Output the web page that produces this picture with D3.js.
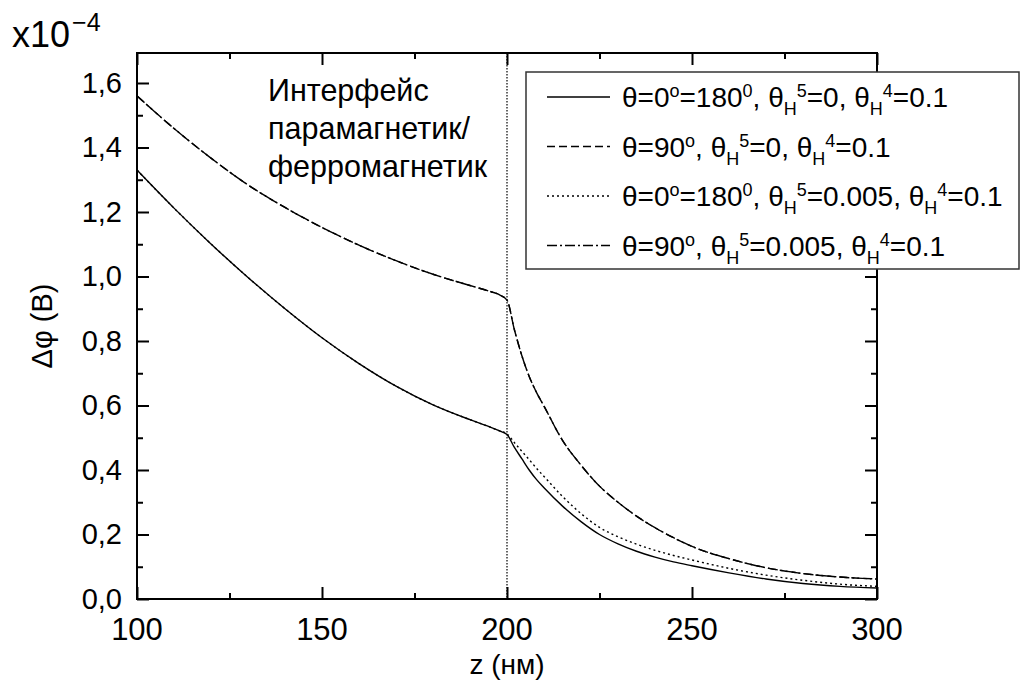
<!DOCTYPE html>
<html>
<head>
<meta charset="utf-8">
<script src="https://cdn.jsdelivr.net/npm/d3@7"></script>
<style>
  body { margin: 0; background: #fff; }
  svg { display: block; font-family: "Liberation Sans", Arial, sans-serif; }
</style>
</head>
<body>
<script>
// z (nm) grid shared by every series
const zGrid = [100, 110, 120, 130, 140, 150, 160, 170, 180, 190, 195, 198, 200,
  202, 204, 206, 208, 210, 215, 220, 225, 230, 235, 240, 245, 250, 260, 270, 280, 290, 300]

// dphi values, x1e-4 V
const solid = [1.33, 1.212, 1.101, 0.997, 0.9, 0.81, 0.73, 0.66, 0.602, 0.556, 0.535, 0.521, 0.51,
  0.47, 0.435, 0.40, 0.37, 0.345, 0.288, 0.24, 0.2, 0.171, 0.148, 0.13, 0.115, 0.103, 0.081, 0.062, 0.048, 0.039, 0.034]
const dashed = [1.56, 1.459, 1.367, 1.284, 1.214, 1.152, 1.097, 1.049, 1.007, 0.972, 0.955, 0.943, 0.927,
  0.835, 0.755, 0.69, 0.64, 0.598, 0.492, 0.415, 0.35, 0.30, 0.257, 0.221, 0.19, 0.163, 0.125, 0.097, 0.079, 0.068, 0.062]
const dotted = [1.33, 1.212, 1.101, 0.997, 0.9, 0.81, 0.73, 0.66, 0.602, 0.556, 0.535, 0.521, 0.512,
  0.485, 0.458, 0.432, 0.405, 0.38, 0.318, 0.265, 0.222, 0.193, 0.17, 0.151, 0.135, 0.121, 0.095, 0.074, 0.058, 0.046, 0.039]
const dashDot = [1.56, 1.459, 1.367, 1.284, 1.214, 1.152, 1.097, 1.049, 1.007, 0.972, 0.955, 0.943, 0.927,
  0.835, 0.755, 0.69, 0.64, 0.598, 0.492, 0.415, 0.35, 0.30, 0.257, 0.221, 0.19, 0.163, 0.125, 0.097, 0.079, 0.068, 0.062]

const xTicks = [100, 150, 200, 250, 300]
const xMinor = [125, 175, 225, 275]
const yTicks = [0, 0.2, 0.4, 0.6, 0.8, 1.0, 1.2, 1.4, 1.6]
const yMinor = [0.1, 0.3, 0.5, 0.7, 0.9, 1.1, 1.3, 1.5]
const interfaceZ = 200
const interfaceLines = ["Интерфейс", "парамагнетик/", "ферромагнетик"]

// legend labels split into pieces: n = normal, sup, sub
const legendLabels = [
  [["n", "θ=0"], ["sup", "o"], ["n", "=180"], ["sup", "0"], ["n", ", θ"], ["sub", "H"], ["sup", "5"], ["n", "=0, θ"], ["sub", "H"], ["sup", "4"], ["n", "=0.1"]],
  [["n", "θ=90"], ["sup", "o"], ["n", ", θ"], ["sub", "H"], ["sup", "5"], ["n", "=0, θ"], ["sub", "H"], ["sup", "4"], ["n", "=0.1"]],
  [["n", "θ=0"], ["sup", "o"], ["n", "=180"], ["sup", "0"], ["n", ", θ"], ["sub", "H"], ["sup", "5"], ["n", "=0.005, θ"], ["sub", "H"], ["sup", "4"], ["n", "=0.1"]],
  [["n", "θ=90"], ["sup", "o"], ["n", ", θ"], ["sub", "H"], ["sup", "5"], ["n", "=0.005, θ"], ["sub", "H"], ["sup", "4"], ["n", "=0.1"]]
]

const series = [
  {values: solid, dash: null},
  {values: dashed, dash: "8,4"},
  {values: dotted, dash: "2,3"},
  {values: dashDot, dash: "10,3,2,3"}
]

let width = 1023
let height = 691
let margin = {left: 137, right: 146, top: 53, bottom: 92}

const svg = d3.select("body").append("svg")
    .attr("width", width)
    .attr("height", height)

const x = d3.scaleLinear().domain([100, 300]).range([margin.left, width - margin.right])
const y = d3.scaleLinear().domain([0, 1.693]).range([height - margin.bottom, margin.top])

// curves
const line = d3.line()
    .x((d, i) => x(zGrid[i]))
    .y(d => y(d))
    .curve(d3.curveMonotoneX)

svg.append("g")
  .selectAll("path")
  .data(series)
  .join("path")
    .attr("d", d => line(d.values))
    .attr("fill", "none")
    .attr("stroke", "#000")
    .attr("stroke-width", 1.4)
    .attr("stroke-dasharray", d => d.dash)

// interface marker
svg.append("line")
    .attr("x1", x(interfaceZ)).attr("x2", x(interfaceZ))
    .attr("y1", y.range()[1]).attr("y2", y.range()[0])
    .attr("stroke", "#000")
    .attr("stroke-width", 1.2)
    .attr("stroke-dasharray", "1.5,1.5")

// axes with inward ticks on all four sides
function styleAxis (g) {
  g.select(".domain").remove()
  g.selectAll(".tick line").attr("stroke", "#000").attr("stroke-width", 2)
  g.selectAll("text").remove()
}
const bottom = height - margin.bottom
const right = width - margin.right
svg.append("g").attr("transform", `translate(0,${bottom})`)
    .call(d3.axisBottom(x).tickValues(xTicks).tickSize(-12)).call(styleAxis)
svg.append("g").attr("transform", `translate(0,${bottom})`)
    .call(d3.axisBottom(x).tickValues(xMinor).tickSize(-6)).call(styleAxis)
svg.append("g").attr("transform", `translate(0,${margin.top})`)
    .call(d3.axisTop(x).tickValues(xTicks).tickSize(-12)).call(styleAxis)
svg.append("g").attr("transform", `translate(0,${margin.top})`)
    .call(d3.axisTop(x).tickValues(xMinor).tickSize(-6)).call(styleAxis)
svg.append("g").attr("transform", `translate(${margin.left},0)`)
    .call(d3.axisLeft(y).tickValues(yTicks).tickSize(-12)).call(styleAxis)
svg.append("g").attr("transform", `translate(${margin.left},0)`)
    .call(d3.axisLeft(y).tickValues(yMinor).tickSize(-6)).call(styleAxis)
svg.append("g").attr("transform", `translate(${right},0)`)
    .call(d3.axisRight(y).tickValues(yTicks).tickSize(-12)).call(styleAxis)
svg.append("g").attr("transform", `translate(${right},0)`)
    .call(d3.axisRight(y).tickValues(yMinor).tickSize(-6)).call(styleAxis)

svg.append("rect")
    .attr("x", margin.left).attr("y", margin.top)
    .attr("width", right - margin.left).attr("height", bottom - margin.top)
    .attr("fill", "none").attr("stroke", "#000").attr("stroke-width", 2)

// tick labels
svg.append("g")
  .selectAll("text")
  .data(xTicks)
  .join("text")
    .attr("x", d => x(d))
    .attr("y", bottom + 41)
    .attr("text-anchor", "middle")
    .attr("font-size", 31)
    .text(d => d)

svg.append("g")
  .selectAll("text")
  .data(yTicks)
  .join("text")
    .attr("x", margin.left - 15)
    .attr("y", d => y(d) + 10)
    .attr("text-anchor", "end")
    .attr("font-size", 29)
    .text(d => d3.format(".1f")(d).replace(".", ","))

// scale factor
const mult = svg.append("text").attr("x", 12).attr("y", 47).attr("font-size", 36)
mult.append("tspan").text("x10")
mult.append("tspan").attr("font-size", 25).attr("dx", 2).attr("dy", -16).text("\u22124")

// axis titles
svg.append("text")
    .attr("x", x(200))
    .attr("y", 674)
    .attr("text-anchor", "middle")
    .attr("font-size", 28)
    .text("z (нм)")

svg.append("text")
    .attr("transform", `translate(52,${(bottom + margin.top) / 2}) rotate(-90)`)
    .attr("text-anchor", "middle")
    .attr("font-size", 29)
    .text("Δφ (B)")

// interface annotation
svg.append("g")
  .selectAll("text")
  .data(interfaceLines)
  .join("text")
    .attr("x", 268)
    .attr("y", (d, i) => 101 + i * 38)
    .attr("font-size", 30.5)
    .text(d => d)

// legend
const legend = svg.append("g")
legend.append("rect")
    .attr("x", 526).attr("y", 72)
    .attr("width", 493).attr("height", 197)
    .attr("fill", "#fff")
    .attr("stroke", "#333")
    .attr("stroke-width", 1.5)

legendLabels.forEach((parts, i) => {
  let yy = 107 + i * 49.5
  legend.append("line")
      .attr("x1", 547).attr("x2", 610)
      .attr("y1", yy - 10).attr("y2", yy - 10)
      .attr("stroke", "#000")
      .attr("stroke-width", 1.4)
      .attr("stroke-dasharray", series[i].dash)
  let t = legend.append("text").attr("x", 622).attr("y", yy).attr("font-size", 28)
  let shift = 0
  for (let [kind, str] of parts) {
    let target = kind === "sup" ? -10 : kind === "sub" ? 8 : 0
    t.append("tspan")
        .attr("dy", target - shift)
        .attr("font-size", kind === "n" ? 28 : 18)
        .text(str)
    shift = target
  }
})
</script>
</body>
</html>
